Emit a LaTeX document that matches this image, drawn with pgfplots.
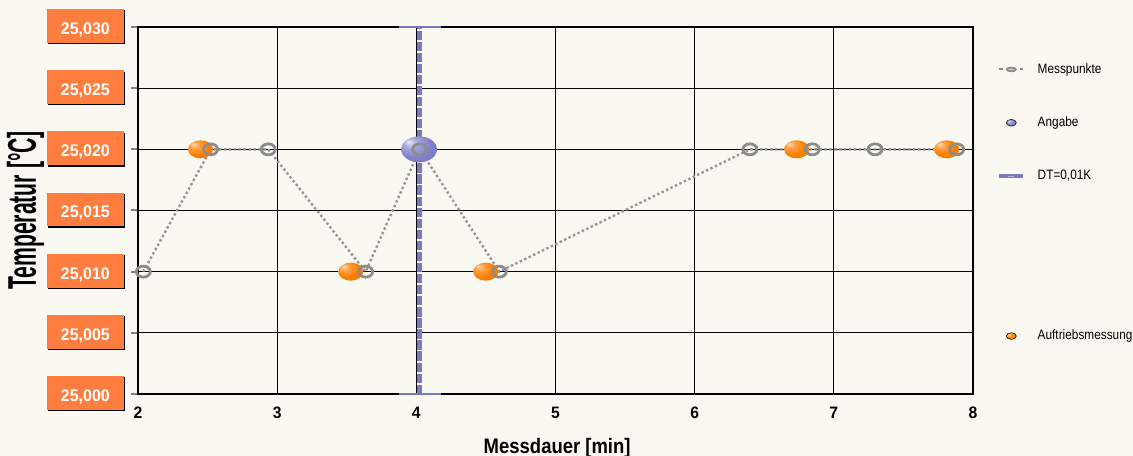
\documentclass[border=0pt]{standalone}
\usepackage{pgfplots}
\pgfplotsset{compat=1.18}
\usepackage{fontspec}
\setmainfont{Liberation Sans}
\newfontfamily\mytickfont[FakeStretch=0.95]{Liberation Sans}
\newfontfamily\xlabfont[FakeStretch=0.88]{Liberation Sans}
\newfontfamily\ylabfont[FakeStretch=0.53]{Liberation Sans}
\newfontfamily\legfont[FakeStretch=0.87]{Liberation Sans}
\usetikzlibrary{shadows}
\definecolor{bgcol}{RGB}{249,248,241}
\definecolor{tickorange}{RGB}{255,125,62}
\definecolor{ringgray}{RGB}{140,140,140}
\definecolor{linegray}{RGB}{150,150,150}
\definecolor{dtblue}{RGB}{122,122,192}
\definecolor{ballblue}{RGB}{128,128,204}
\definecolor{ballorange}{RGB}{255,128,0}

\pgfdeclareradialshading{orangeball}{\pgfpoint{-15bp}{15bp}}{%
  color(0bp)=(white!70!ballorange); color(10bp)=(ballorange!75!white); color(22bp)=(ballorange); color(40bp)=(ballorange!92!black); color(50bp)=(ballorange!85!black)}
\pgfdeclareradialshading{blueball}{\pgfpoint{-15bp}{15bp}}{%
  color(0bp)=(white!80!ballblue); color(10bp)=(ballblue!70!white); color(24bp)=(ballblue); color(40bp)=(ballblue!92!black); color(50bp)=(ballblue!82!black)}

\pgfdeclareplotmark{oball}{%
  \pgfpathellipse{\pgfpointorigin}{\pgfqpoint{9.4pt}{0pt}}{\pgfqpoint{0pt}{6.75pt}}%
  \pgfshadepath{orangeball}{0}\pgfusepath{}}
\pgfdeclareplotmark{bball}{%
  \pgfpathellipse{\pgfpointorigin}{\pgfqpoint{13.4pt}{0pt}}{\pgfqpoint{0pt}{9.75pt}}%
  \pgfshadepath{blueball}{0}\pgfusepath{}}
\pgfdeclareplotmark{ring}{%
  \pgfpathellipse{\pgfpointorigin}{\pgfqpoint{5.25pt}{0pt}}{\pgfqpoint{0pt}{4.1pt}}%
  \pgfusepathqstroke}

\begin{document}
\begin{tikzpicture}
\path[use as bounding box] (0,0) rectangle (849.75pt,342pt);
\clip (0,0) rectangle (849.75pt,342pt);
\fill[bgcol] (0,0) rectangle (849.75pt,342pt);
\begin{axis}[
  at={(103.5pt,46.5pt)}, anchor=south west,
  scale only axis, width=626.25pt, height=275.25pt,
  xmin=2, xmax=8, ymin=25, ymax=25.03,
  clip=false,
  axis line style={black, line width=0.9pt},
  grid=major, major grid style={black, line width=0.9pt},
  xtick={2,3,4,5,6,7,8},
  xticklabels={2,3,4,5,6,7,8},
  ytick={25,25.005,25.01,25.015,25.02,25.025,25.03},
  scaled y ticks=false,
  tick align=outside,
  ytick pos=left, xtick pos=bottom,
  major tick length=5.25pt,
  xtick style={draw=none},
  ytick style={draw=gray, line width=1.5pt},
  xticklabel style={font=\mytickfont\bfseries\fontsize{12.4pt}{14pt}\selectfont, inner sep=0pt, anchor=north, yshift=-4.5pt},
  yticklabel style={font=\mytickfont\bfseries\fontsize{12.6pt}{14pt}\selectfont,
     text=white, fill=tickorange, inner xsep=0pt, inner ysep=0pt,
     minimum width=57.5pt, text height=19pt, text depth=6.3pt,
     general shadow={fill=black, shadow xshift=1pt, shadow yshift=-1pt},
     anchor=east, xshift=-5.25pt, yshift=0.75pt,
     /pgf/number format/.cd, fixed, fixed zerofill, precision=3, use comma, 1000 sep={}, assume math mode=true},
  xlabel={Messdauer [min]},
  ylabel={Temperatur [°C]},
  xlabel style={font=\xlabfont\bfseries\fontsize{15.75pt}{18pt}\selectfont, at={(axis description cs:0.502,-0.1608)}, anchor=base},
  ylabel style={font=\ylabfont\bfseries\fontsize{30pt}{33pt}\selectfont, at={(axis description cs:-0.1222,0.5)}, anchor=base},
  legend style={at={(axis description cs:1.0293,0.5211)}, anchor=west, draw=none, fill=none,
     inner sep=0pt, outer sep=0pt, font=\legfont\fontsize{10.2pt}{12pt}\selectfont,
     row sep=30.5pt, column sep=9.4pt, nodes={inner sep=0pt, text height=7.5pt, text depth=2pt}},
  legend cell align=left,
]
% DT = 0,01K (stem and caps)
\addplot[forget plot, dtblue, line width=3.9pt, dash pattern=on 7pt off 1.3pt] coordinates {(4.02,25.000) (4.02,25.030)};
\addplot[forget plot, dtblue, line width=1.7pt] coordinates {(3.875,25.030) (4.177,25.030)};
\addplot[forget plot, dtblue, line width=1.7pt] coordinates {(3.875,25.000) (4.177,25.000)};
% Auftriebsmessung
\addplot[forget plot, only marks, mark=oball] coordinates {
  (2.449,25.020) (3.529,25.010) (4.499,25.010) (6.733,25.020) (7.811,25.020)};
% Angabe
\addplot[forget plot, only marks, mark=bball] coordinates {(4.02,25.020)};
% Messpunkte
\addplot[forget plot, linegray, line width=1.8pt, dash pattern=on 1.8pt off 1.9pt,
  mark=ring, mark options={solid, draw=ringgray, line width=2.1pt}] coordinates {
  (2.038,25.010) (2.522,25.020) (2.936,25.020) (3.636,25.010) (4.024,25.020)
  (4.596,25.010) (6.397,25.020) (6.845,25.020) (7.296,25.020) (7.883,25.020)};

% legend
\addlegendimage{legend image code/.code={
  \draw[ringgray, line width=1.5pt] (0pt,0pt) -- (2.6pt,0pt);
  \draw[ringgray, line width=1.5pt] (15.4pt,0pt) -- (18pt,0pt);
  \draw[ringgray, line width=1.3pt, fill=ringgray!45] (9pt,0pt) ellipse [x radius=3.4pt, y radius=1.4pt];
}}
\addlegendentry{Messpunkte}
\addlegendimage{legend image code/.code={
  \shade[shading=blueball] (9pt,0pt) ellipse [x radius=3.75pt, y radius=2.5pt];
}}
\addlegendentry{Angabe}
\addlegendimage{legend image code/.code={
  \draw[dtblue, line width=2.8pt] (0pt,0pt) -- (18pt,0pt);
  \draw[dtblue!55!white, line width=0.8pt] (6.5pt,0pt) -- (11pt,0pt);
}}
\addlegendentry{DT=0,01K}
\addlegendimage{empty legend}
\addlegendentry{}
\addlegendimage{empty legend}
\addlegendentry{}
\addlegendimage{legend image code/.code={
  \shade[shading=orangeball] (9pt,0pt) ellipse [x radius=3.75pt, y radius=2.5pt];
}}
\addlegendentry{Auftriebsmessung}
\end{axis}
\end{tikzpicture}
\end{document}
